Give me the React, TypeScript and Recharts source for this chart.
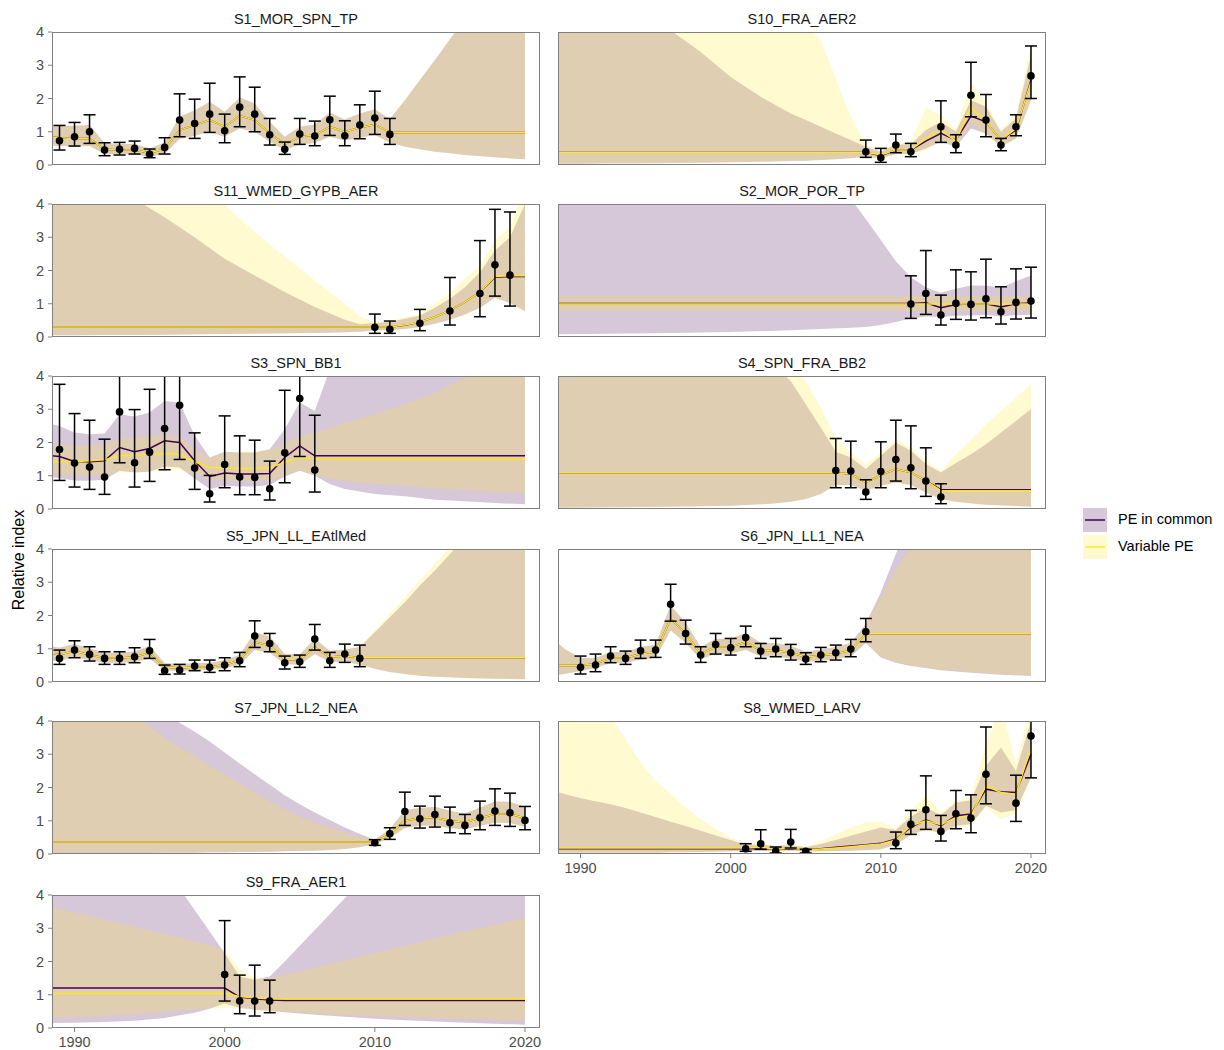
import React from 'react';
import { ComposedChart, Area, Line, Scatter, ErrorBar, XAxis, YAxis } from 'recharts';

type Row = [number, number, number, number]; // year, estimate, lower, upper

const X_TICKS = [1990, 2000, 2010, 2020];
const Y_TICKS = [0, 1, 2, 3, 4];
const SERIES = ['PE in common', 'Variable PE'];

// ---- S1_MOR_SPN_TP
const S1_OBS: Row[] = [
  [1989, 0.73, 0.45, 1.19], [1990, 0.85, 0.57, 1.28], [1991, 1.0, 0.65, 1.51], [1992, 0.45, 0.28, 0.67],
  [1993, 0.47, 0.3, 0.68], [1994, 0.5, 0.33, 0.72], [1995, 0.32, 0.22, 0.48], [1996, 0.53, 0.33, 0.82],
  [1997, 1.35, 0.85, 2.14], [1998, 1.25, 0.8, 1.98], [1999, 1.53, 0.98, 2.46], [2000, 1.03, 0.67, 1.53],
  [2001, 1.74, 1.15, 2.65], [2002, 1.53, 1.0, 2.34], [2003, 0.91, 0.6, 1.4], [2004, 0.47, 0.32, 0.69],
  [2005, 0.93, 0.62, 1.4], [2006, 0.87, 0.58, 1.32], [2007, 1.36, 0.89, 2.07], [2008, 0.88, 0.58, 1.33],
  [2009, 1.2, 0.79, 1.81], [2010, 1.41, 0.92, 2.22], [2011, 0.92, 0.62, 1.4],
];
const S1_COMMON: Row[] = [
  [1988, 0.86, 0.6, 1.2], [1989, 0.82, 0.58, 1.18], [1990, 0.8, 0.56, 1.18], [1991, 0.8, 0.57, 1.2],
  [1992, 0.47, 0.33, 0.66], [1993, 0.45, 0.32, 0.63], [1994, 0.45, 0.32, 0.63], [1995, 0.36, 0.25, 0.5],
  [1996, 0.48, 0.34, 0.68], [1997, 1.05, 0.78, 1.45], [1998, 1.2, 0.88, 1.65], [1999, 1.35, 1.0, 1.9],
  [2000, 1.15, 0.85, 1.6], [2001, 1.48, 1.1, 2.03], [2002, 1.35, 1.0, 1.85], [2003, 0.95, 0.7, 1.3],
  [2004, 0.62, 0.45, 0.85], [2005, 0.85, 0.62, 1.15], [2006, 0.9, 0.66, 1.22], [2007, 1.15, 0.85, 1.58],
  [2008, 1.0, 0.74, 1.37], [2009, 1.12, 0.82, 1.55], [2010, 1.22, 0.9, 1.68], [2011, 0.98, 0.68, 1.38],
  [2012, 0.98, 0.55, 1.95], [2013, 0.98, 0.47, 2.56], [2014, 0.98, 0.4, 3.16], [2015, 0.98, 0.35, 3.78],
  [2016, 0.98, 0.3, 4.4], [2018, 0.98, 0.23, 5.6], [2020, 0.98, 0.17, 6.8],
];
const S1_VARIABLE: Row[] = S1_COMMON;

// ---- S10_FRA_AER2
const S10_OBS: Row[] = [
  [2009, 0.4, 0.23, 0.75], [2010, 0.22, 0.08, 0.5], [2011, 0.6, 0.37, 0.93], [2012, 0.4, 0.25, 0.65],
  [2014, 1.15, 0.68, 1.93], [2015, 0.6, 0.37, 0.91], [2016, 2.1, 1.45, 3.09], [2017, 1.35, 0.85, 2.12],
  [2018, 0.6, 0.43, 0.8], [2019, 1.15, 0.88, 1.51], [2020, 2.68, 2.0, 3.58],
];
const S10_COMMON: Row[] = [
  [1988, 0.38, 0.04, 7], [1990, 0.38, 0.04, 6], [1992, 0.38, 0.05, 5.2], [1994, 0.38, 0.05, 4.6],
  [1996, 0.38, 0.06, 4.05], [1998, 0.38, 0.07, 3.4], [2000, 0.38, 0.08, 2.65], [2002, 0.38, 0.1, 2.05],
  [2004, 0.38, 0.12, 1.55], [2005, 0.38, 0.13, 1.35], [2006, 0.38, 0.15, 1.15], [2007, 0.38, 0.17, 0.95],
  [2008, 0.38, 0.2, 0.75], [2009, 0.38, 0.25, 0.55], [2010, 0.28, 0.2, 0.4], [2011, 0.45, 0.33, 0.62],
  [2012, 0.45, 0.33, 0.62], [2013, 0.72, 0.5, 1.05], [2014, 0.95, 0.7, 1.3], [2015, 0.75, 0.55, 1.0],
  [2016, 1.47, 1.1, 1.95], [2017, 1.3, 0.95, 1.75], [2018, 0.75, 0.55, 1.0], [2019, 1.05, 0.8, 1.4],
  [2020, 2.55, 1.95, 3.3],
];
const S10_VARIABLE: Row[] = [
  [1988, 0.38, 0.04, 14], [1990, 0.38, 0.04, 11], [1992, 0.38, 0.05, 9], [1994, 0.38, 0.05, 7.5],
  [1996, 0.38, 0.06, 6.4], [1998, 0.38, 0.07, 5.6], [2000, 0.38, 0.08, 5.1], [2002, 0.38, 0.1, 4.8],
  [2004, 0.38, 0.12, 4.5], [2005, 0.38, 0.13, 4.25], [2006, 0.38, 0.15, 3.75], [2007, 0.38, 0.17, 2.6],
  [2008, 0.38, 0.2, 1.45], [2009, 0.38, 0.25, 0.62], [2010, 0.3, 0.2, 0.45], [2011, 0.45, 0.32, 0.65],
  [2012, 0.45, 0.32, 0.7], [2013, 0.8, 0.45, 1.72], [2014, 1.05, 0.75, 1.5], [2015, 0.72, 0.52, 1.05],
  [2016, 1.75, 1.25, 2.5], [2017, 1.3, 0.92, 1.85], [2018, 0.75, 0.55, 1.05], [2019, 1.1, 0.8, 1.5],
  [2020, 2.5, 1.9, 3.6],
];

// ---- S11_WMED_GYPB_AER
const S11_OBS: Row[] = [
  [2010, 0.29, 0.11, 0.69], [2011, 0.23, 0.11, 0.48], [2013, 0.41, 0.19, 0.83], [2015, 0.78, 0.36, 1.79],
  [2017, 1.31, 0.61, 2.9], [2018, 2.17, 1.23, 3.84], [2019, 1.86, 0.93, 3.76],
];
const S11_COMMON: Row[] = [
  [1988, 0.3, 0.05, 7], [1990, 0.3, 0.05, 5.6], [1992, 0.3, 0.06, 4.7], [1994, 0.3, 0.06, 4.15],
  [1996, 0.3, 0.07, 3.6], [1998, 0.3, 0.08, 3.0], [2000, 0.3, 0.09, 2.35], [2002, 0.3, 0.1, 1.85],
  [2004, 0.3, 0.11, 1.35], [2006, 0.3, 0.12, 0.9], [2008, 0.3, 0.14, 0.52], [2009, 0.3, 0.16, 0.38],
  [2010, 0.3, 0.2, 0.42], [2011, 0.3, 0.2, 0.45], [2012, 0.35, 0.24, 0.55], [2013, 0.45, 0.3, 0.65],
  [2014, 0.6, 0.4, 0.88], [2015, 0.8, 0.52, 1.15], [2016, 1.05, 0.68, 1.5], [2017, 1.35, 0.88, 1.95],
  [2018, 1.8, 1.18, 2.6], [2019, 1.82, 1.02, 3.0], [2020, 1.82, 0.78, 4.0],
];
const S11_VARIABLE: Row[] = [
  [1988, 0.3, 0.05, 14], [1990, 0.3, 0.05, 11], [1992, 0.3, 0.06, 9], [1994, 0.3, 0.06, 7.5],
  [1996, 0.3, 0.07, 6.2], [1998, 0.3, 0.08, 5.0], [2000, 0.3, 0.09, 3.98], [2002, 0.3, 0.1, 3.15],
  [2004, 0.3, 0.11, 2.42], [2006, 0.3, 0.12, 1.7], [2008, 0.3, 0.14, 1.0], [2009, 0.3, 0.16, 0.62],
  [2010, 0.3, 0.2, 0.44], [2011, 0.3, 0.2, 0.47], [2012, 0.36, 0.24, 0.6], [2013, 0.45, 0.3, 0.7],
  [2014, 0.6, 0.4, 1.0], [2015, 0.8, 0.52, 1.3], [2016, 1.05, 0.68, 1.75], [2017, 1.35, 0.88, 2.15],
  [2018, 1.82, 1.18, 2.9], [2019, 1.84, 1.02, 3.3], [2020, 1.84, 0.75, 4.6],
];

// ---- S2_MOR_POR_TP
const S2_OBS: Row[] = [
  [2012, 0.99, 0.56, 1.84], [2013, 1.31, 0.68, 2.6], [2014, 0.66, 0.36, 1.26], [2015, 1.01, 0.53, 2.02],
  [2016, 0.98, 0.51, 1.96], [2017, 1.15, 0.58, 2.34], [2018, 0.76, 0.39, 1.51], [2019, 1.04, 0.54, 2.05],
  [2020, 1.08, 0.57, 2.1],
];
const S2_COMMON: Row[] = [
  [1988, 1.01, 0.08, 9], [1992, 1.01, 0.1, 7.5], [1996, 1.01, 0.12, 6.2], [2000, 1.01, 0.15, 5.3],
  [2004, 1.01, 0.2, 4.7], [2006, 1.01, 0.24, 4.4], [2008, 1.01, 0.28, 4.15], [2009, 1.01, 0.3, 3.55],
  [2010, 1.01, 0.36, 2.92], [2011, 1.01, 0.45, 2.28], [2012, 1.01, 0.56, 1.8], [2013, 1.03, 0.62, 1.5],
  [2014, 0.88, 0.6, 1.33], [2015, 0.98, 0.64, 1.45], [2016, 0.99, 0.65, 1.55], [2017, 1.0, 0.66, 1.55],
  [2018, 0.9, 0.62, 1.48], [2019, 1.0, 0.66, 1.68], [2020, 1.02, 0.67, 1.85],
];
const S2_VARIABLE: Row[] = [
  [1988, 0.99, 0.78, 1.23], [1992, 0.99, 0.78, 1.23], [1996, 0.99, 0.78, 1.23], [2000, 0.99, 0.78, 1.23],
  [2004, 0.99, 0.78, 1.23], [2006, 0.99, 0.78, 1.23], [2008, 0.99, 0.78, 1.23], [2009, 0.99, 0.78, 1.23],
  [2010, 0.99, 0.78, 1.23], [2011, 0.99, 0.78, 1.23], [2012, 0.99, 0.78, 1.23], [2013, 0.99, 0.78, 1.23],
  [2014, 0.99, 0.78, 1.23], [2015, 0.99, 0.78, 1.23], [2016, 0.99, 0.78, 1.23], [2017, 0.99, 0.78, 1.23],
  [2018, 0.99, 0.78, 1.23], [2019, 0.99, 0.78, 1.23], [2020, 0.99, 0.78, 1.23],
];

// ---- S3_SPN_BB1
const S3_OBS: Row[] = [
  [1989, 1.79, 0.86, 3.75], [1990, 1.38, 0.66, 2.87], [1991, 1.26, 0.59, 2.67], [1992, 0.96, 0.44, 2.1],
  [1993, 2.92, 1.39, 6.0], [1994, 1.39, 0.66, 2.99], [1995, 1.71, 0.83, 3.6], [1996, 2.42, 1.18, 5.0],
  [1997, 3.12, 1.49, 6.4], [1998, 1.23, 0.59, 2.29], [1999, 0.46, 0.21, 1.01], [2000, 1.34, 0.64, 2.8],
  [2001, 0.96, 0.43, 2.2], [2002, 0.95, 0.43, 2.07], [2003, 0.61, 0.27, 1.44], [2004, 1.69, 0.79, 3.57],
  [2005, 3.32, 1.58, 6.9], [2006, 1.17, 0.51, 2.82],
];
const S3_COMMON: Row[] = [
  [1988, 1.62, 0.97, 2.6], [1989, 1.58, 0.93, 2.5], [1990, 1.43, 0.85, 2.3], [1991, 1.42, 0.85, 2.25],
  [1992, 1.45, 0.88, 2.27], [1993, 1.85, 1.15, 2.85], [1994, 1.72, 1.1, 2.78], [1995, 1.82, 1.12, 2.9],
  [1996, 2.05, 1.28, 3.25], [1997, 2.0, 1.25, 3.2], [1998, 1.45, 0.92, 2.2], [1999, 0.98, 0.6, 1.55],
  [2000, 1.08, 0.7, 1.72], [2001, 1.05, 0.68, 1.7], [2002, 1.05, 0.68, 1.7], [2003, 1.07, 0.72, 1.8],
  [2004, 1.55, 0.98, 2.4], [2005, 1.9, 1.15, 3.2], [2006, 1.6, 1.0, 2.95], [2007, 1.6, 0.75, 4.2],
  [2008, 1.6, 0.6, 5], [2010, 1.6, 0.45, 6], [2012, 1.6, 0.38, 7], [2014, 1.6, 0.28, 8],
  [2016, 1.6, 0.23, 9], [2018, 1.6, 0.18, 10], [2020, 1.6, 0.14, 11],
];
const S3_VARIABLE: Row[] = [
  [1988, 1.42, 1.12, 1.95], [1989, 1.42, 1.05, 1.92], [1990, 1.42, 1.0, 1.9], [1991, 1.45, 1.0, 1.92],
  [1992, 1.48, 1.02, 1.95], [1993, 1.6, 1.1, 2.1], [1994, 1.62, 1.12, 2.15], [1995, 1.65, 1.15, 2.2],
  [1996, 1.67, 1.2, 2.22], [1997, 1.65, 1.18, 2.15], [1998, 1.42, 1.05, 1.8], [1999, 1.25, 0.9, 1.55],
  [2000, 1.23, 0.85, 1.7], [2001, 1.22, 0.85, 1.72], [2002, 1.22, 0.85, 1.72], [2003, 1.25, 0.88, 1.78],
  [2004, 1.4, 1.0, 1.95], [2005, 1.55, 1.15, 2.2], [2006, 1.52, 1.0, 2.3], [2007, 1.5, 0.92, 2.45],
  [2008, 1.5, 0.85, 2.6], [2010, 1.5, 0.75, 2.85], [2012, 1.5, 0.7, 3.15], [2014, 1.5, 0.62, 3.5],
  [2016, 1.5, 0.57, 3.95], [2018, 1.5, 0.52, 4.3], [2020, 1.5, 0.48, 4.6],
];

// ---- S4_SPN_FRA_BB2
const S4_OBS: Row[] = [
  [2007, 1.16, 0.64, 2.12], [2008, 1.14, 0.64, 2.04], [2009, 0.51, 0.29, 0.88], [2010, 1.13, 0.64, 2.02],
  [2011, 1.49, 0.84, 2.67], [2012, 1.24, 0.61, 2.5], [2013, 0.84, 0.38, 1.84], [2014, 0.36, 0.16, 0.76],
];
const S4_COMMON: Row[] = [
  [1988, 1.09, 0.04, 12], [1992, 1.09, 0.05, 9], [1996, 1.09, 0.07, 7], [2000, 1.09, 0.1, 5.3],
  [2002, 1.09, 0.14, 4.6], [2003, 1.09, 0.17, 4.25], [2004, 1.09, 0.22, 3.85], [2005, 1.09, 0.3, 3.15],
  [2006, 1.09, 0.45, 2.45], [2007, 1.09, 0.72, 1.72], [2008, 1.05, 0.72, 1.55], [2009, 0.8, 0.55, 1.2],
  [2010, 1.02, 0.7, 1.6], [2011, 1.2, 0.8, 2.0], [2012, 1.1, 0.72, 1.75], [2013, 0.85, 0.5, 1.35],
  [2014, 0.58, 0.3, 1.1], [2015, 0.58, 0.22, 1.38], [2016, 0.58, 0.17, 1.65], [2017, 0.58, 0.13, 1.95],
  [2018, 0.58, 0.11, 2.3], [2019, 0.58, 0.09, 2.65], [2020, 0.58, 0.07, 3.0],
];
const S4_VARIABLE: Row[] = [
  [1988, 1.09, 0.04, 16], [1992, 1.09, 0.05, 12], [1996, 1.09, 0.07, 9], [2000, 1.09, 0.1, 6.5],
  [2002, 1.09, 0.14, 5.3], [2003, 1.09, 0.17, 4.8], [2004, 1.09, 0.22, 4.3], [2005, 1.09, 0.3, 3.85],
  [2006, 1.09, 0.45, 3.05], [2007, 1.09, 0.72, 2.1], [2008, 1.05, 0.72, 1.7], [2009, 0.8, 0.55, 1.35],
  [2010, 1.02, 0.7, 1.7], [2011, 1.2, 0.8, 2.1], [2012, 1.1, 0.72, 1.85], [2013, 0.85, 0.5, 1.45],
  [2014, 0.55, 0.28, 1.15], [2015, 0.55, 0.2, 1.65], [2016, 0.55, 0.15, 2.1], [2017, 0.55, 0.12, 2.55],
  [2018, 0.55, 0.1, 2.95], [2019, 0.55, 0.08, 3.35], [2020, 0.55, 0.06, 3.75],
];

// ---- S5_JPN_LL_EAtlMed
const S5_OBS: Row[] = [
  [1989, 0.71, 0.53, 0.96], [1990, 0.96, 0.73, 1.24], [1991, 0.83, 0.63, 1.06], [1992, 0.71, 0.53, 0.91],
  [1993, 0.71, 0.53, 0.91], [1994, 0.76, 0.58, 1.03], [1995, 0.94, 0.71, 1.28], [1996, 0.34, 0.23, 0.51],
  [1997, 0.36, 0.24, 0.53], [1998, 0.48, 0.34, 0.66], [1999, 0.44, 0.29, 0.66], [2000, 0.51, 0.34, 0.73],
  [2001, 0.64, 0.46, 0.89], [2002, 1.38, 1.04, 1.84], [2003, 1.16, 0.91, 1.46], [2004, 0.58, 0.39, 0.78],
  [2005, 0.61, 0.44, 0.81], [2006, 1.29, 0.96, 1.73], [2007, 0.64, 0.44, 0.89], [2008, 0.84, 0.59, 1.14],
  [2009, 0.71, 0.46, 1.11],
];
const S5_COMMON: Row[] = [
  [1988, 0.9, 0.62, 1.12], [1989, 0.82, 0.64, 1.03], [1990, 0.93, 0.74, 1.14], [1991, 0.82, 0.66, 1.01],
  [1992, 0.72, 0.58, 0.88], [1993, 0.72, 0.58, 0.88], [1994, 0.75, 0.6, 0.92], [1995, 0.88, 0.7, 1.08],
  [1996, 0.45, 0.35, 0.57], [1997, 0.42, 0.33, 0.54], [1998, 0.45, 0.36, 0.57], [1999, 0.45, 0.36, 0.57],
  [2000, 0.52, 0.41, 0.66], [2001, 0.65, 0.52, 0.82], [2002, 1.2, 0.96, 1.5], [2003, 1.1, 0.88, 1.37],
  [2004, 0.68, 0.54, 0.85], [2005, 0.66, 0.52, 0.83], [2006, 1.05, 0.84, 1.3], [2007, 0.75, 0.6, 0.94],
  [2008, 0.78, 0.62, 0.98], [2009, 0.73, 0.52, 1.05], [2010, 0.73, 0.4, 1.5], [2011, 0.73, 0.3, 1.95],
  [2012, 0.73, 0.24, 2.4], [2013, 0.73, 0.19, 2.9], [2014, 0.73, 0.16, 3.35], [2015, 0.73, 0.14, 3.85],
  [2016, 0.73, 0.12, 4.35], [2018, 0.73, 0.1, 5.4], [2020, 0.73, 0.08, 6.4],
];
const S5_VARIABLE: Row[] = [
  [1988, 0.9, 0.62, 1.12], [1989, 0.82, 0.64, 1.03], [1990, 0.93, 0.74, 1.14], [1991, 0.82, 0.66, 1.01],
  [1992, 0.72, 0.58, 0.88], [1993, 0.72, 0.58, 0.88], [1994, 0.75, 0.6, 0.92], [1995, 0.88, 0.7, 1.08],
  [1996, 0.45, 0.35, 0.57], [1997, 0.42, 0.33, 0.54], [1998, 0.45, 0.36, 0.57], [1999, 0.45, 0.36, 0.57],
  [2000, 0.52, 0.41, 0.66], [2001, 0.65, 0.52, 0.82], [2002, 1.2, 0.96, 1.5], [2003, 1.1, 0.88, 1.37],
  [2004, 0.68, 0.54, 0.85], [2005, 0.66, 0.52, 0.83], [2006, 1.05, 0.84, 1.3], [2007, 0.75, 0.6, 0.94],
  [2008, 0.78, 0.62, 0.98], [2009, 0.73, 0.52, 1.07], [2010, 0.73, 0.4, 1.55], [2011, 0.73, 0.3, 2.05],
  [2012, 0.73, 0.24, 2.55], [2013, 0.73, 0.19, 3.05], [2014, 0.73, 0.16, 3.55], [2015, 0.73, 0.14, 4.05],
  [2016, 0.73, 0.12, 4.6], [2018, 0.73, 0.1, 5.7], [2020, 0.73, 0.08, 6.8],
];

// ---- S6_JPN_LL1_NEA
const S6_OBS: Row[] = [
  [1990, 0.44, 0.24, 0.78], [1991, 0.51, 0.31, 0.84], [1992, 0.78, 0.58, 1.06], [1993, 0.71, 0.53, 0.93],
  [1994, 0.94, 0.71, 1.26], [1995, 0.96, 0.74, 1.26], [1996, 2.34, 1.83, 2.94], [1997, 1.46, 1.14, 1.86],
  [1998, 0.81, 0.59, 1.06], [1999, 1.13, 0.84, 1.46], [2000, 1.03, 0.81, 1.31], [2001, 1.34, 1.06, 1.68],
  [2002, 0.93, 0.71, 1.16], [2003, 0.99, 0.76, 1.31], [2004, 0.88, 0.66, 1.13], [2005, 0.69, 0.53, 0.88],
  [2006, 0.81, 0.61, 1.04], [2007, 0.88, 0.66, 1.11], [2008, 0.99, 0.76, 1.28], [2009, 1.51, 1.21, 1.91],
];
const S6_COMMON: Row[] = [
  [1988, 0.5, 0.17, 1.35], [1989, 0.5, 0.25, 0.98], [1990, 0.5, 0.33, 0.72], [1991, 0.55, 0.42, 0.72],
  [1992, 0.72, 0.57, 0.9], [1993, 0.72, 0.57, 0.9], [1994, 0.85, 0.68, 1.06], [1995, 0.9, 0.72, 1.12],
  [1996, 1.9, 1.55, 2.3], [1997, 1.45, 1.18, 1.78], [1998, 0.85, 0.68, 1.05], [1999, 1.05, 0.85, 1.3],
  [2000, 1.05, 0.85, 1.3], [2001, 1.2, 0.97, 1.48], [2002, 0.95, 0.77, 1.17], [2003, 0.95, 0.77, 1.17],
  [2004, 0.88, 0.71, 1.08], [2005, 0.75, 0.6, 0.92], [2006, 0.8, 0.64, 0.98], [2007, 0.85, 0.69, 1.05],
  [2008, 0.95, 0.77, 1.17], [2009, 1.45, 1.17, 1.75], [2010, 1.45, 0.74, 2.7], [2011, 1.45, 0.58, 3.85],
  [2012, 1.45, 0.48, 5.0], [2014, 1.45, 0.35, 7.2], [2016, 1.45, 0.28, 9.5], [2018, 1.45, 0.22, 12],
  [2020, 1.45, 0.18, 14],
];
const S6_VARIABLE: Row[] = [
  [1988, 0.5, 0.17, 1.35], [1989, 0.5, 0.25, 0.98], [1990, 0.5, 0.33, 0.72], [1991, 0.55, 0.42, 0.72],
  [1992, 0.72, 0.57, 0.9], [1993, 0.72, 0.57, 0.9], [1994, 0.85, 0.68, 1.06], [1995, 0.9, 0.72, 1.12],
  [1996, 1.9, 1.55, 2.3], [1997, 1.45, 1.18, 1.78], [1998, 0.85, 0.68, 1.05], [1999, 1.05, 0.85, 1.3],
  [2000, 1.05, 0.85, 1.3], [2001, 1.2, 0.97, 1.48], [2002, 0.95, 0.77, 1.17], [2003, 0.95, 0.77, 1.17],
  [2004, 0.88, 0.71, 1.08], [2005, 0.75, 0.6, 0.92], [2006, 0.8, 0.64, 0.98], [2007, 0.85, 0.69, 1.05],
  [2008, 0.95, 0.77, 1.17], [2009, 1.45, 1.17, 1.75], [2010, 1.45, 0.76, 2.55], [2011, 1.45, 0.6, 3.4],
  [2012, 1.45, 0.5, 4.05], [2014, 1.45, 0.37, 5.5], [2016, 1.45, 0.3, 7], [2018, 1.45, 0.24, 8.5],
  [2020, 1.45, 0.2, 10],
];

// ---- S7_JPN_LL2_NEA
const S7_OBS: Row[] = [
  [2010, 0.34, 0.26, 0.43], [2011, 0.61, 0.44, 0.79], [2012, 1.28, 0.86, 1.86], [2013, 1.06, 0.78, 1.44],
  [2014, 1.19, 0.81, 1.74], [2015, 0.94, 0.64, 1.41], [2016, 0.86, 0.61, 1.19], [2017, 1.09, 0.73, 1.59],
  [2018, 1.29, 0.86, 1.96], [2019, 1.24, 0.83, 1.83], [2020, 1.01, 0.73, 1.43],
];
const S7_COMMON: Row[] = [
  [1988, 0.36, 0.02, 9], [1990, 0.36, 0.02, 7.2], [1992, 0.36, 0.03, 5.9], [1994, 0.36, 0.03, 4.9],
  [1995, 0.36, 0.03, 4.5], [1996, 0.36, 0.04, 4.2], [1997, 0.36, 0.04, 3.95], [1998, 0.36, 0.04, 3.68],
  [1999, 0.36, 0.05, 3.38], [2000, 0.36, 0.05, 3.05], [2001, 0.36, 0.06, 2.72], [2002, 0.36, 0.06, 2.4],
  [2003, 0.36, 0.07, 2.08], [2004, 0.36, 0.08, 1.77], [2005, 0.36, 0.09, 1.5], [2006, 0.36, 0.1, 1.25],
  [2007, 0.36, 0.12, 1.02], [2008, 0.36, 0.15, 0.8], [2009, 0.36, 0.2, 0.6], [2010, 0.36, 0.3, 0.43],
  [2011, 0.6, 0.48, 0.75], [2012, 1.0, 0.78, 1.32], [2013, 1.08, 0.85, 1.38], [2014, 1.1, 0.86, 1.42],
  [2015, 1.0, 0.78, 1.3], [2016, 0.95, 0.74, 1.22], [2017, 1.08, 0.85, 1.4], [2018, 1.2, 0.94, 1.58],
  [2019, 1.2, 0.93, 1.57], [2020, 1.08, 0.82, 1.42],
];
const S7_VARIABLE: Row[] = [
  [1988, 0.36, 0.02, 6.5], [1990, 0.36, 0.02, 5.4], [1992, 0.36, 0.03, 4.7], [1994, 0.36, 0.03, 4.15],
  [1995, 0.36, 0.03, 3.85], [1996, 0.36, 0.04, 3.5], [1997, 0.36, 0.04, 3.2], [1998, 0.36, 0.04, 2.95],
  [1999, 0.36, 0.05, 2.65], [2000, 0.36, 0.05, 2.4], [2001, 0.36, 0.06, 2.12], [2002, 0.36, 0.06, 1.85],
  [2003, 0.36, 0.07, 1.58], [2004, 0.36, 0.08, 1.35], [2005, 0.36, 0.09, 1.13], [2006, 0.36, 0.1, 0.95],
  [2007, 0.36, 0.12, 0.8], [2008, 0.36, 0.15, 0.65], [2009, 0.36, 0.2, 0.52], [2010, 0.36, 0.3, 0.42],
  [2011, 0.6, 0.48, 0.75], [2012, 1.0, 0.78, 1.32], [2013, 1.08, 0.85, 1.38], [2014, 1.1, 0.86, 1.42],
  [2015, 1.0, 0.78, 1.3], [2016, 0.95, 0.74, 1.22], [2017, 1.08, 0.85, 1.4], [2018, 1.2, 0.94, 1.58],
  [2019, 1.2, 0.93, 1.57], [2020, 1.08, 0.82, 1.42],
];

// ---- S8_WMED_LARV
const S8_OBS: Row[] = [
  [2001, 0.16, 0.08, 0.31], [2002, 0.31, 0.14, 0.73], [2003, 0.09, 0.03, 0.21], [2004, 0.36, 0.18, 0.74],
  [2005, 0.08, 0.03, 0.14], [2011, 0.33, 0.16, 0.66], [2012, 0.89, 0.59, 1.31], [2013, 1.33, 0.74, 2.35],
  [2014, 0.68, 0.39, 1.16], [2015, 1.21, 0.76, 1.91], [2016, 1.08, 0.64, 1.78], [2017, 2.4, 1.51, 3.82],
  [2019, 1.53, 0.98, 2.37], [2020, 3.55, 2.29, 5.0],
];
const S8_COMMON: Row[] = [
  [1988, 0.16, 0.04, 1.92], [1990, 0.16, 0.04, 1.68], [1992, 0.16, 0.04, 1.5], [1993, 0.16, 0.04, 1.38],
  [1994, 0.16, 0.04, 1.25], [1995, 0.16, 0.04, 1.11], [1996, 0.16, 0.05, 0.97], [1997, 0.16, 0.05, 0.84],
  [1998, 0.16, 0.06, 0.7], [1999, 0.16, 0.07, 0.56], [2000, 0.16, 0.08, 0.42], [2001, 0.16, 0.1, 0.28],
  [2002, 0.16, 0.1, 0.28], [2003, 0.15, 0.09, 0.24], [2004, 0.16, 0.1, 0.26], [2005, 0.13, 0.08, 0.2],
  [2006, 0.16, 0.08, 0.3], [2007, 0.2, 0.09, 0.42], [2008, 0.24, 0.1, 0.55], [2009, 0.28, 0.12, 0.68],
  [2010, 0.32, 0.14, 0.8], [2011, 0.45, 0.28, 0.72], [2012, 0.8, 0.58, 1.12], [2013, 1.03, 0.75, 1.4],
  [2014, 0.85, 0.62, 1.17], [2015, 1.15, 0.85, 1.55], [2016, 1.2, 0.9, 1.62], [2017, 1.95, 1.45, 2.65],
  [2018, 1.87, 1.25, 3.2], [2019, 1.85, 1.32, 2.5], [2020, 3.0, 2.3, 4.0],
];
const S8_VARIABLE: Row[] = [
  [1988, 0.18, 0.04, 9], [1990, 0.18, 0.04, 6], [1992, 0.18, 0.04, 4.15], [1993, 0.18, 0.04, 3.45],
  [1994, 0.18, 0.04, 2.75], [1995, 0.18, 0.04, 2.2], [1996, 0.18, 0.05, 1.8], [1997, 0.18, 0.05, 1.4],
  [1998, 0.18, 0.06, 1.05], [1999, 0.18, 0.07, 0.76], [2000, 0.18, 0.08, 0.5], [2001, 0.18, 0.1, 0.3],
  [2002, 0.2, 0.12, 0.34], [2003, 0.14, 0.08, 0.24], [2004, 0.18, 0.1, 0.32], [2005, 0.12, 0.07, 0.2],
  [2006, 0.15, 0.07, 0.38], [2007, 0.18, 0.08, 0.6], [2008, 0.22, 0.09, 0.8], [2009, 0.26, 0.1, 0.95],
  [2010, 0.3, 0.12, 0.97], [2011, 0.42, 0.26, 0.75], [2012, 0.85, 0.55, 1.3], [2013, 1.0, 0.7, 1.75],
  [2014, 0.88, 0.6, 1.25], [2015, 1.1, 0.8, 1.6], [2016, 1.15, 0.85, 1.7], [2017, 2.05, 1.4, 3.3],
  [2018, 1.85, 1.05, 4.5], [2019, 1.8, 1.2, 2.7], [2020, 3.2, 2.3, 4.5],
];

// ---- S9_FRA_AER1
const S9_OBS: Row[] = [
  [2000, 1.61, 0.81, 3.23], [2001, 0.81, 0.43, 1.59], [2002, 0.81, 0.36, 1.89], [2003, 0.81, 0.46, 1.44],
];
const S9_COMMON: Row[] = [
  [1988, 1.2, 0.15, 9], [1990, 1.2, 0.16, 8], [1992, 1.2, 0.18, 7], [1994, 1.2, 0.22, 6],
  [1996, 1.2, 0.3, 4.85], [1997, 1.2, 0.38, 4.2], [1998, 1.2, 0.46, 3.55], [1999, 1.2, 0.58, 2.9],
  [2000, 1.2, 0.74, 2.25], [2001, 0.93, 0.6, 1.55], [2002, 0.88, 0.55, 1.45], [2003, 0.84, 0.52, 1.55],
  [2004, 0.83, 0.47, 2.0], [2006, 0.83, 0.4, 2.95], [2008, 0.83, 0.34, 3.9], [2010, 0.83, 0.28, 4.85],
  [2012, 0.83, 0.23, 5.8], [2016, 0.83, 0.16, 7.7], [2020, 0.83, 0.1, 9.6],
];
const S9_VARIABLE: Row[] = [
  [1988, 1.04, 0.3, 3.68], [1990, 1.04, 0.33, 3.47], [1992, 1.04, 0.37, 3.26], [1994, 1.04, 0.42, 3.04],
  [1996, 1.04, 0.48, 2.83], [1997, 1.04, 0.52, 2.72], [1998, 1.04, 0.55, 2.62], [1999, 1.04, 0.58, 2.5],
  [2000, 1.04, 0.6, 2.35], [2001, 0.95, 0.6, 1.75], [2002, 0.9, 0.55, 1.5], [2003, 0.88, 0.5, 1.5],
  [2004, 0.87, 0.48, 1.61], [2006, 0.87, 0.43, 1.82], [2008, 0.87, 0.39, 2.04], [2010, 0.87, 0.35, 2.25],
  [2012, 0.87, 0.32, 2.47], [2016, 0.87, 0.27, 2.9], [2020, 0.87, 0.23, 3.32],
];

const PANELS = [
  { name: 'S1_MOR_SPN_TP', obs: S1_OBS, common: S1_COMMON, variable: S1_VARIABLE },
  { name: 'S10_FRA_AER2', obs: S10_OBS, common: S10_COMMON, variable: S10_VARIABLE },
  { name: 'S11_WMED_GYPB_AER', obs: S11_OBS, common: S11_COMMON, variable: S11_VARIABLE },
  { name: 'S2_MOR_POR_TP', obs: S2_OBS, common: S2_COMMON, variable: S2_VARIABLE },
  { name: 'S3_SPN_BB1', obs: S3_OBS, common: S3_COMMON, variable: S3_VARIABLE },
  { name: 'S4_SPN_FRA_BB2', obs: S4_OBS, common: S4_COMMON, variable: S4_VARIABLE },
  { name: 'S5_JPN_LL_EAtlMed', obs: S5_OBS, common: S5_COMMON, variable: S5_VARIABLE },
  { name: 'S6_JPN_LL1_NEA', obs: S6_OBS, common: S6_COMMON, variable: S6_VARIABLE },
  { name: 'S7_JPN_LL2_NEA', obs: S7_OBS, common: S7_COMMON, variable: S7_VARIABLE },
  { name: 'S8_WMED_LARV', obs: S8_OBS, common: S8_COMMON, variable: S8_VARIABLE },
  { name: 'S9_FRA_AER1', obs: S9_OBS, common: S9_COMMON, variable: S9_VARIABLE },
];

const PURPLE = '#440154';
const YELLOW = '#FDE725';
const FILL_OPACITY = 0.22;
const FONT = '"Liberation Sans", Arial, Helvetica, sans-serif';
const GREY = '#808080';
const TICK_TEXT = { fill: '#4d4d4d', fontSize: 14.5 };
const X_DOMAIN = [1988.5, 2021];
const Y_DOMAIN = [0, 4];

const PLOT_W = 488;
const PLOT_H = 133;
const AXIS_W = 40;
const AXIS_H = 24;
const PAD_TOP = 10;
const PAD_RIGHT = 24;
const COL_LEFT = [52, 558];
const ROW_TOP = [32, 204, 376, 549, 721, 895];

function buildRows(common: Row[], variable: Row[]) {
  const byYear = new Map<number, any>();
  common.forEach(([year, est, lo, hi]) => byYear.set(year, { year, ce: est, cBand: [lo, hi] }));
  variable.forEach(([year, est, lo, hi]) =>
    byYear.set(year, { ...(byYear.get(year) ?? { year }), ve: est, vBand: [lo, hi] }),
  );
  return [...byYear.values()].sort((a, b) => a.year - b.year);
}

const Dot = (props: any) => <circle cx={props.cx} cy={props.cy} r={3.8} fill="#000" />;

function Panel({ panel, index }: { panel: (typeof PANELS)[number]; index: number }) {
  const col = index % 2;
  const row = Math.floor(index / 2);
  const left = COL_LEFT[col];
  const top = ROW_TOP[row];
  const showY = col === 0;
  const showX = index >= PANELS.length - 2;
  const rows = buildRows(panel.common, panel.variable);
  const points = panel.obs.map(([year, est, lo, hi]) => ({ year, y: est, err: [est - lo, hi - est] }));

  return (
    <>
      <div
        style={{
          position: 'absolute', left, top: top - 22, width: PLOT_W, height: 18,
          lineHeight: '18px', textAlign: 'center', fontSize: 14.5, color: '#1a1a1a', whiteSpace: 'nowrap',
        }}
      >
        {panel.name}
      </div>
      {/* ribbons, fitted lines and axes */}
      <div style={{ position: 'absolute', left: left - AXIS_W, top: top - PAD_TOP }}>
        <ComposedChart
          width={AXIS_W + PLOT_W + PAD_RIGHT}
          height={PAD_TOP + PLOT_H + AXIS_H}
          data={rows}
          margin={{ top: PAD_TOP, right: PAD_RIGHT, bottom: showX ? 0 : AXIS_H, left: showY ? 0 : AXIS_W }}
        >
          <XAxis
            type="number"
            dataKey="year"
            domain={X_DOMAIN}
            allowDataOverflow
            ticks={X_TICKS}
            interval={0}
            hide={!showX}
            height={AXIS_H}
            axisLine={false}
            tickLine={{ stroke: GREY }}
            tickSize={4}
            tickMargin={5}
            tick={TICK_TEXT}
          />
          <YAxis
            type="number"
            domain={Y_DOMAIN}
            allowDataOverflow
            ticks={Y_TICKS}
            interval={0}
            hide={!showY}
            width={AXIS_W}
            axisLine={false}
            tickLine={{ stroke: GREY }}
            tickSize={4}
            tickMargin={4}
            tick={TICK_TEXT}
          />
          <Area dataKey="cBand" type="linear" stroke="none" fill={PURPLE} fillOpacity={FILL_OPACITY}
            dot={false} activeDot={false} connectNulls isAnimationActive={false} />
          <Area dataKey="vBand" type="linear" stroke="none" fill={YELLOW} fillOpacity={FILL_OPACITY}
            dot={false} activeDot={false} connectNulls isAnimationActive={false} />
          <Line dataKey="ce" type="linear" stroke={PURPLE} strokeWidth={1.5}
            dot={false} activeDot={false} connectNulls isAnimationActive={false} />
          <Line dataKey="ve" type="linear" stroke={YELLOW} strokeWidth={1.5}
            dot={false} activeDot={false} connectNulls isAnimationActive={false} />
        </ComposedChart>
      </div>
      {/* observed indices, drawn in a chart the size of the panel so that it clips them */}
      <div style={{ position: 'absolute', left, top }}>
        <ComposedChart width={PLOT_W} height={PLOT_H} data={points} margin={{ top: 0, right: 0, bottom: 0, left: 0 }}>
          <XAxis type="number" dataKey="year" domain={X_DOMAIN} allowDataOverflow hide />
          <YAxis type="number" domain={Y_DOMAIN} allowDataOverflow hide />
          <Scatter dataKey="y" shape={Dot} isAnimationActive={false}>
            <ErrorBar dataKey="err" direction="y" width={6} stroke="#000" strokeWidth={1.5} isAnimationActive={false} />
          </Scatter>
        </ComposedChart>
      </div>
      <div
        style={{
          position: 'absolute', left, top, width: PLOT_W, height: PLOT_H,
          border: `1px solid ${GREY}`, boxSizing: 'border-box', pointerEvents: 'none',
        }}
      />
    </>
  );
}

function Legend() {
  const colors = [PURPLE, YELLOW];
  return (
    <>
      {SERIES.map((label, i) => (
        <div key={label} style={{ position: 'absolute', left: 1083, top: 508 + i * 27, width: 140, height: 24 }}>
          <svg width={24} height={24} style={{ position: 'absolute', left: 0, top: 0 }}>
            <rect x={0} y={0} width={24} height={24} fill={colors[i]} fillOpacity={FILL_OPACITY} />
            <line x1={2} x2={22} y1={12} y2={12} stroke={colors[i]} strokeWidth={1.5} />
          </svg>
          <span style={{ position: 'absolute', left: 35, top: 3, fontSize: 14.5, color: '#000', whiteSpace: 'nowrap' }}>
            {label}
          </span>
        </div>
      ))}
    </>
  );
}

export default function App() {
  return (
    <div
      style={{
        position: 'absolute', left: 0, top: 0, width: 1224, height: 1050,
        background: '#fff', fontFamily: FONT, overflow: 'hidden',
      }}
    >
      {PANELS.map((p, i) => (
        <Panel key={p.name} panel={p} index={i} />
      ))}
      <div
        style={{
          position: 'absolute', left: 19, top: 560, fontSize: 16, color: '#000', whiteSpace: 'nowrap',
          transform: 'translate(-50%, -50%) rotate(-90deg)',
        }}
      >
        Relative index
      </div>
      <Legend />
    </div>
  );
}
